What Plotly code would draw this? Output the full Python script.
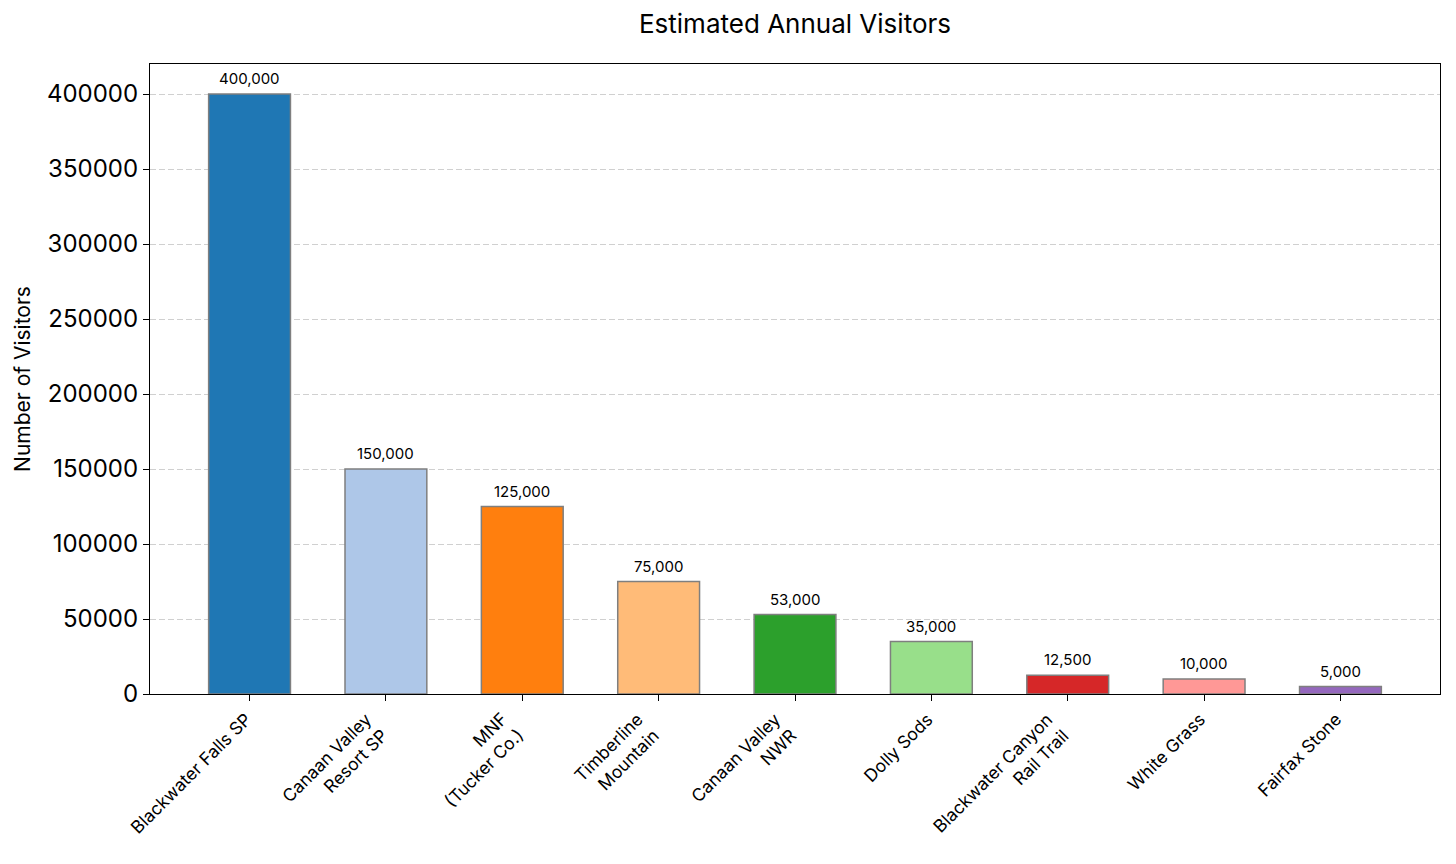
import plotly.graph_objects as go

categories = ["Blackwater Falls SP", "Canaan Valley<br>Resort SP", "MNF<br>(Tucker Co.)",
              "Timberline<br>Mountain", "Canaan Valley<br>NWR", "Dolly Sods",
              "Blackwater Canyon<br>Rail Trail", "White Grass", "Fairfax Stone"]
visitors = [400000, 150000, 125000, 75000, 53000, 35000, 12500, 10000, 5000]
colors = ["#1f77b4", "#aec7e8", "#ff7f0e", "#ffbb78", "#2ca02c", "#98df8a",
          "#d62728", "#ff9896", "#9467bd"]
y_ticks = [0, 50000, 100000, 150000, 200000, 250000, 300000, 350000, 400000]

FONT = "Inter"
x_idx = list(range(len(categories)))

fig = go.Figure(go.Bar(
    x=x_idx, y=visitors, width=0.6,
    marker=dict(color=colors, line=dict(color="#7f7f7f", width=1.5)),
))

for i, v in zip(x_idx, visitors):
    fig.add_annotation(
        x=i, y=v, xref="x", yref="y", yshift=4, text=f"{v:,}",
        xanchor="center", yanchor="bottom", showarrow=False,
        font=dict(size=15, family=FONT, color="black"),
    )

for i, lab in zip(x_idx, categories):
    fig.add_annotation(
        x=i, y=0, xref="x", yref="paper", yshift=-12, xshift=8,
        text=lab, textangle=-45, xanchor="right", yanchor="top", align="right",
        showarrow=False, font=dict(size=17.5, family=FONT, color="black"),
    )

fig.update_layout(
    width=1456, height=864,
    margin=dict(l=150, r=16, t=64, b=170),
    paper_bgcolor="white", plot_bgcolor="white",
    font=dict(family=FONT, color="black"),
    title=dict(text="Estimated Annual Visitors", x=0.546, xanchor="center",
               y=0.972, yanchor="middle", font=dict(size=26, family=FONT)),
    showlegend=False,
    bargap=0.4,
)
fig.update_xaxes(
    range=[-0.73, 8.73], tickvals=x_idx, ticktext=[""] * len(x_idx),
    ticks="outside", ticklen=6, tickcolor="black", showline=True, linecolor="black",
    linewidth=1.2, mirror=True, showgrid=False,
)
fig.update_yaxes(
    range=[0, 420000], tickvals=y_ticks, ticktext=[str(v) for v in y_ticks],
    ticks="outside", ticklen=6, tickcolor="black", showline=True, linecolor="black",
    linewidth=1.2, mirror=True, showgrid=True, gridcolor="#d0d0d0", griddash="6px,3px",
    zeroline=False, tickfont=dict(size=24, family=FONT),
    title=dict(text="Number of Visitors", font=dict(size=21, family=FONT), standoff=10),
)

fig.write_html("out.html")
